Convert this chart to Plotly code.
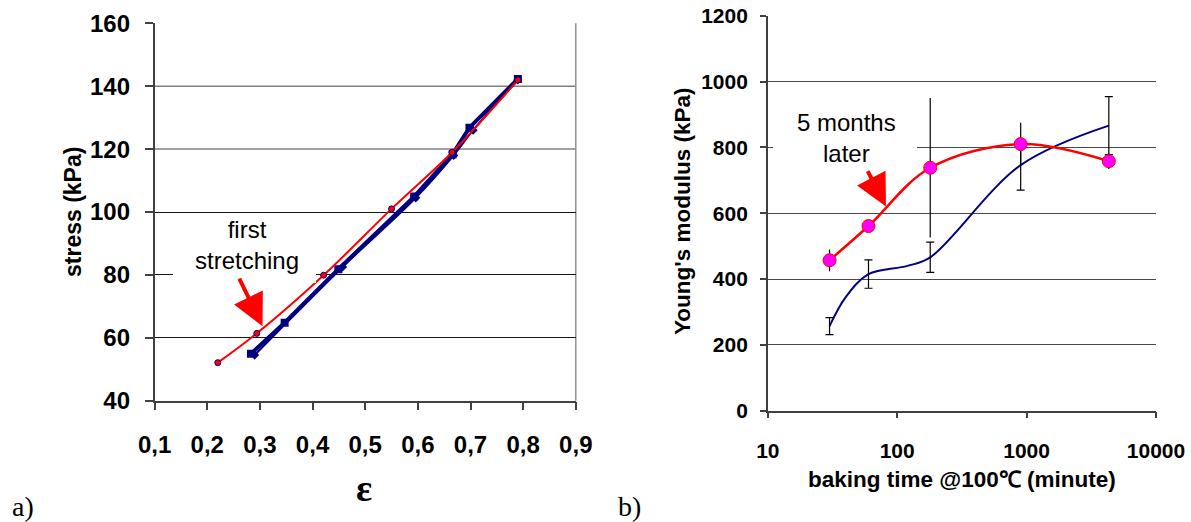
import plotly.graph_objects as go

W, H = 1191, 522

# ---- panel a) stress-strain ----
red_strain = [0.220, 0.294, 0.421, 0.550, 0.665, 0.790]
red_stress = [52.1, 61.4, 79.9, 101.0, 119.0, 142.0]
blue_up_strain = [0.283, 0.347, 0.449, 0.593, 0.666, 0.698, 0.790]
blue_up_stress = [54.9, 64.8, 81.8, 104.9, 118.4, 126.8, 142.3]
blue_dn_strain = [0.790, 0.705, 0.668, 0.596, 0.457, 0.290]
blue_dn_stress = [142.0, 126.0, 118.0, 104.5, 82.5, 54.5]
a_xticks = [0.1, 0.2, 0.3, 0.4, 0.5, 0.6, 0.7, 0.8, 0.9]
a_yticks = [40, 60, 80, 100, 120, 140, 160]
a_dark_grid = [60, 80, 100, 160]
a_light_grid = [120, 140]

# ---- panel b) Young's modulus vs baking time ----
later_t = [30, 60, 180, 900, 4320]
later_E = [457, 561, 738, 810, 758]
later_err = [33, 12, 212, 65, 24]
first_t = [30, 40, 60, 120, 180, 900, 4320]
first_E = [257, 345, 415, 440, 466, 746, 866]
first_err_t = [30, 60, 180, 900, 4320]
first_err = [26, 43, 46, 76, 88]
b_xticks = [10, 100, 1000, 10000]
b_xlabels = ["10", "100", "1000", "10000"]
b_yticks = [0, 200, 400, 600, 800, 1000, 1200]

NAVY = "#000080"
RED = "#FF0000"
FONT = "Liberation Sans"

def px_x(p):
    return p / W

def px_y(p):
    return 1 - p / H

fig = go.Figure()

# panel a traces
fig.add_trace(go.Scatter(x=blue_dn_strain, y=blue_dn_stress, mode="lines+markers",
                         line=dict(color=NAVY, width=2, shape="spline"),
                         marker=dict(symbol="diamond", size=7, color=NAVY),
                         xaxis="x", yaxis="y", showlegend=False))
fig.add_trace(go.Scatter(x=blue_up_strain, y=blue_up_stress, mode="lines+markers",
                         line=dict(color=NAVY, width=4),
                         marker=dict(symbol="square", size=8, color=NAVY),
                         xaxis="x", yaxis="y", showlegend=False))
fig.add_trace(go.Scatter(x=red_strain, y=red_stress, mode="lines+markers",
                         line=dict(color=RED, width=2, shape="spline"),
                         marker=dict(symbol="circle", size=6, color=RED,
                                     line=dict(color=NAVY, width=1)),
                         xaxis="x", yaxis="y", showlegend=False))

# panel b traces
err_y = [first_E[first_t.index(t)] for t in first_err_t]
fig.add_trace(go.Scatter(x=first_t, y=first_E, mode="lines",
                         line=dict(color=NAVY, width=2, shape="spline"),
                         xaxis="x2", yaxis="y2", showlegend=False))
fig.add_trace(go.Scatter(x=first_err_t, y=err_y, mode="markers",
                         marker=dict(size=1, color="rgba(0,0,0,0)"),
                         error_y=dict(type="data", array=first_err, visible=True,
                                      color="black", thickness=1.2, width=4),
                         xaxis="x2", yaxis="y2", showlegend=False))
fig.add_trace(go.Scatter(x=later_t, y=later_E, mode="lines+markers",
                         line=dict(color=RED, width=2.5, shape="spline"),
                         marker=dict(symbol="circle", size=13, color="#FF00FF",
                                     line=dict(color=RED, width=1)),
                         error_y=dict(type="data", array=later_err, visible=True,
                                      color="black", thickness=1.2, width=0),
                         xaxis="x2", yaxis="y2", showlegend=False))

tickfont_a = dict(family=FONT, size=24, color="black", weight="bold")
tickfont_b = dict(family=FONT, size=21, color="black", weight="bold")
axis_common = dict(zeroline=False, showline=True, linecolor="#404040", linewidth=1.5,
                   ticks="outside", tickcolor="#404040", tickwidth=1.5, automargin=False)

fig.update_layout(
    width=W, height=H, autosize=False,
    margin=dict(l=0, r=0, t=0, b=0, pad=0),
    paper_bgcolor="white", plot_bgcolor="white",
    separators=", ",
    xaxis=dict(domain=[px_x(154.6), px_x(575.8)], range=[0.1, 0.9],
               tickvals=a_xticks, tickformat=".1f", showgrid=False, ticklen=8,
               tickfont=tickfont_a, ticklabelstandoff=14, anchor="y", **axis_common),
    yaxis=dict(domain=[px_y(400.7), px_y(23.3)], range=[40, 160],
               tickvals=a_yticks, showgrid=False,
               minor=dict(tickvals=a_dark_grid, showgrid=True, gridcolor="#151515",
                          gridwidth=1.2, ticks=""),
               ticklen=8, tickfont=tickfont_a, ticklabelstandoff=10, anchor="x",
               **axis_common),
    xaxis2=dict(domain=[px_x(767.8), px_x(1156)], type="log", range=[1, 4],
                tickvals=b_xticks, ticktext=b_xlabels, showgrid=False, ticklen=6,
                tickfont=tickfont_b, ticklabelstandoff=14, anchor="y2", **axis_common),
    yaxis2=dict(domain=[px_y(410.7), px_y(15.7)], range=[0, 1200],
                tickvals=b_yticks, showgrid=True, gridcolor="#484848", gridwidth=1.2,
                ticklen=6, tickfont=tickfont_b, ticklabelstandoff=8, anchor="x2",
                **axis_common),
)

shapes = [
    dict(type="line", xref="x domain", yref="y", x0=0, x1=1, y0=v, y1=v,
         line=dict(color="#808080", width=1.5), layer="below")
    for v in a_light_grid
]
shapes.append(dict(type="line", xref="x domain", yref="y domain", x0=1, x1=1, y0=0, y1=1,
                   line=dict(color="#909090", width=1.5), layer="below"))
# white text boxes hiding grid lines
shapes.append(dict(type="rect", xref="paper", yref="paper",
                   x0=px_x(173), x1=px_x(316), y0=px_y(283), y1=px_y(216),
                   fillcolor="white", line=dict(width=0), layer="above"))
shapes.append(dict(type="rect", xref="paper", yref="paper",
                   x0=px_x(773), x1=px_x(917), y0=px_y(166), y1=px_y(102),
                   fillcolor="white", line=dict(width=0), layer="above"))
fig.update_layout(shapes=shapes)

ann = []

def text(x, y, s, size, family=FONT, bold=False, angle=0):
    ann.append(dict(xref="paper", yref="paper", x=px_x(x), y=px_y(y), text=s,
                    showarrow=False, textangle=angle, xanchor="center", yanchor="middle",
                    font=dict(family=family, size=size, color="black",
                              weight="bold" if bold else "normal")))

text(73, 212, "stress (kPa)", 23, bold=True, angle=-90)
text(364, 488, "ε", 38, family="Liberation Serif", bold=True)
text(682, 212, "Young's modulus (kPa)", 22.5, bold=True, angle=-90)
text(962, 479, "baking time @100℃ (minute)", 22.5, bold=True)
text(23, 506, "a)", 28, family="Liberation Serif")
text(629, 506, "b)", 28, family="Liberation Serif")
text(247, 245, "first<br>stretching", 24)
text(846, 138, "5 months<br>later", 24)

# red arrows
ann.append(dict(xref="x", yref="y", x=0.305, y=63.7, ax=-24, ay=-49,
                showarrow=True, arrowhead=2, arrowsize=1.6, arrowwidth=4,
                arrowcolor=RED, text=""))
ann.append(dict(xref="x2", yref="y2", x=1.913, y=620, ax=-19, ay=-37,
                showarrow=True, arrowhead=2, arrowsize=1.6, arrowwidth=4,
                arrowcolor=RED, text=""))
fig.update_layout(annotations=ann)

fig.write_html("out.html", config={"displayModeBar": False},
               post_script="document.body.style.margin='0px';document.body.style.overflow='hidden';")
